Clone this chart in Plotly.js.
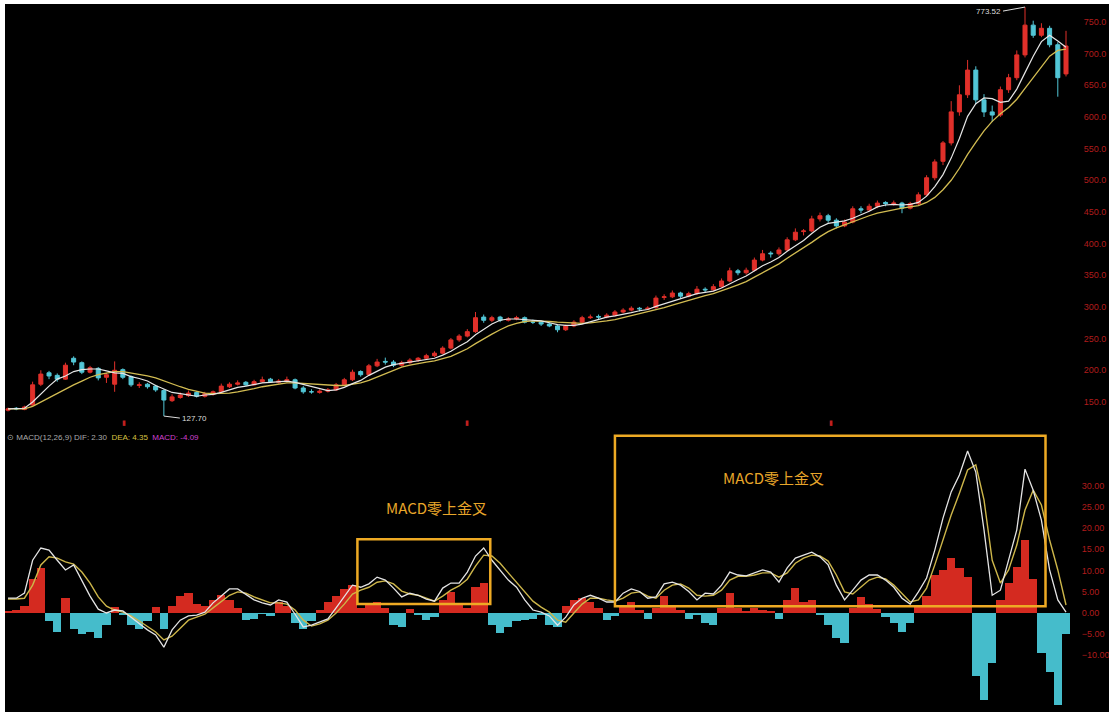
<!DOCTYPE html>
<html><head><meta charset="utf-8">
<script src="https://cdn.plot.ly/plotly-3.0.1.min.js"></script>
<style>
html,body{margin:0;padding:0;background:#fff;width:1114px;height:716px;overflow:hidden}
#chart{position:absolute;left:5px;top:4px;width:1104px;height:708px}
</style></head><body><div id="chart"></div>
<script>
// ---- price (OHLC) ----
const openP = [137,140,138,145,178,196,192,186,219,212,
197,203,189,178,201,190,176,178,175,168,
152,157,160,165,159,162,166,174,178,181,
177,182,186,181,183,185,172,166,165,167,
169,177,185,198,193,207,214,213,208,212,
216,219,223,227,235,248,254,261,284,279,
284,279,281,283,276,276,273,270,264,270,
276,283,285,284,287,292,295,298,297,299,
315,316,322,317,321,328,327,332,341,357,
354,358,374,385,384,390,406,419,420,439,
444,437,428,434,455,453,459,465,463,464,
456,463,477,504,530,559,608,635,674,627,
608,603,643,662,698,745,729,740,714,668];
const highP = [141,142,144,182,200,199,195,212,222,214,
207,205,196,214,203,192,181,180,177,170,
162,165,168,167,166,168,179,181,184,183,
185,190,188,186,190,187,175,170,170,172,
180,188,201,200,210,218,220,216,215,219,
221,226,230,238,251,257,265,292,288,286,
286,284,286,285,280,278,275,272,272,279,
286,288,288,290,295,298,301,300,301,318,
320,326,324,324,333,331,336,345,362,360,
362,378,390,388,394,410,424,423,444,449,
447,440,438,459,459,463,468,467,468,466,
466,481,508,533,562,625,650,690,680,636,
618,648,668,705,773.52,752,748,744,718,736];
const lowP = [135,137,137,144,175,186,182,185,208,194,
195,184,180,166,186,174,172,171,166,127.7,
150,155,158,157,157,160,165,172,176,175,
176,180,180,179,181,170,163,163,163,165,
168,175,183,190,191,205,209,205,206,210,
213,217,221,225,233,245,252,259,275,276,
276,277,279,274,273,270,268,260,262,268,
274,281,281,282,285,290,293,293,295,297,
311,314,314,315,319,323,325,330,339,350,
351,356,372,378,381,388,404,413,418,435,
433,424,426,432,448,451,456,459,460,448,
454,461,475,500,524,555,602,630,620,600,
592,600,638,658,694,725,726,710,632,664];
const closeP = [139,139,142,177,194,191,186,208,213,197,
204,188,193,200,189,177,177,174,169,153,
158,161,164,159,163,166,175,178,180,177,
182,185,182,183,185,172,166,166,167,169,
177,185,197,193,207,213,213,208,212,216,
219,223,227,235,248,254,261,283,279,283,
279,281,283,276,276,273,270,264,270,276,
283,284,284,287,292,295,298,297,298,314,
316,322,317,321,328,327,332,341,357,354,
358,374,384,384,390,406,418,420,439,444,
437,428,434,455,453,459,464,463,464,456,
463,477,504,529,559,608,635,674,627,608,
603,643,662,698,745,729,740,714,662,712];
// ---- moving averages ----
const maFast = [139,139,140,150,163,175,186,191,198,201,
202,202,199,196,195,190,187,183,176,170,
165,163,161,159,161,162,165,169,173,175,
178,180,181,182,183,181,178,174,171,168,
169,173,179,184,192,199,205,209,211,212,
214,216,219,224,230,238,245,256,265,273,
279,281,281,280,279,278,275,272,271,271,
273,277,281,284,286,288,291,294,296,301,
305,310,313,318,321,323,325,330,337,343,
349,357,365,371,378,388,397,405,416,426,
432,434,436,440,445,451,458,461,462,461,
462,465,475,490,509,535,566,601,621,630,
629,623,625,644,670,696,719,729,720,710];
const maSlow = [139,139,139,143,150,157,163,170,177,183,
189,193,196,198,198,196,194,191,188,183,
178,174,170,167,164,163,163,164,166,168,
171,174,176,178,180,180,179,178,177,176,
176,176,178,180,184,189,195,200,205,208,
211,213,215,218,222,228,234,242,250,257,
264,270,274,277,278,278,277,276,275,274,
274,275,276,278,280,283,286,289,292,295,
299,303,307,311,315,318,321,325,330,335,
340,347,354,361,368,377,385,393,402,411,
419,425,430,435,440,444,448,451,454,456,
458,460,465,473,485,500,519,541,560,578,
593,605,615,628,645,662,680,696,705,707];
// ---- MACD ----
const dif = [3.4,3.4,4.6,12.4,15.3,14.8,12.4,10.1,11.3,7.7,
3.9,0.8,-0.1,0.6,0.4,-1.1,-2.7,-4.1,-5.3,-8.2,
-4.1,-1.8,-0.8,-0.6,0.1,2.3,3.9,5.6,5.6,4.4,
3.0,2.3,1.8,3.0,2.5,-0.4,-3.4,-3.0,-2.3,-1.5,
1.1,3.9,6.5,6.0,6.8,8.4,7.7,5.8,3.7,4.6,
4.1,3.2,2.7,5.8,7.0,7.0,9.6,13.4,15.3,12.4,
10.1,7.7,6.0,3.0,0.6,0.1,-0.8,-3.0,-1.1,1.8,
3.4,4.1,3.4,2.5,2.5,4.6,5.6,5.0,3.4,3.7,
6.8,7.2,6.5,5.0,3.0,4.6,4.4,6.5,9.6,8.9,
8.7,9.4,10.1,9.6,7.2,10.6,12.9,13.6,14.3,13.2,
11.3,6.5,3.0,5.3,7.7,8.9,8.9,7.7,6.0,3.4,
2.0,4.9,8.2,14.8,22.4,28.6,32.6,38.3,33.3,19.6,
4.1,5.3,12.4,19.6,34.0,29.0,21.9,10.1,3.0,0.1];
const dea = [3.2,3.2,3.4,6.5,11.3,13.2,12.9,12.0,11.5,9.6,
7.0,3.7,1.5,0.6,0.1,-0.8,-2.0,-3.4,-4.6,-6.5,
-5.6,-3.7,-1.8,-1.1,-0.4,1.1,2.7,4.1,4.9,4.6,
3.7,3.0,2.3,2.3,2.0,0.6,-1.8,-3.2,-2.7,-1.8,
-0.1,2.0,4.4,5.3,6.0,7.2,7.5,6.8,5.1,4.4,
4.1,3.4,2.7,3.9,5.3,6.3,7.9,11.0,13.6,13.4,
11.7,9.4,7.2,4.9,2.7,1.3,0.1,-1.8,-2.3,-0.1,
2.0,3.4,3.4,3.0,2.7,3.4,4.6,4.9,3.9,3.4,
5.3,6.5,6.8,5.8,4.1,3.9,4.1,5.3,7.7,8.6,
8.6,8.9,9.4,9.4,8.4,9.4,11.7,12.9,13.6,13.4,
12.2,8.9,4.9,4.4,6.0,7.7,8.4,8.0,6.5,4.4,
2.5,3.0,5.8,11.3,17.2,23.1,28.3,33.8,35.0,26.7,
12.4,7.0,10.1,16.0,24.3,29.0,25.5,17.2,10.1,1.8];
const macdHist = [0.3,0.5,1.5,8.0,10.5,-2.0,-4.5,3.5,-4.0,-5.0,
-4.5,-6.0,-3.0,1.3,-0.5,-3.0,-4.0,-2.0,1.3,-4.0,
1.5,4.0,4.7,2.0,1.5,3.0,4.1,3.0,1.0,-1.8,
-1.5,-0.3,-0.7,2.5,1.5,-2.5,-4.0,-2.0,0.5,2.5,
4.0,5.5,6.5,1.0,2.0,2.5,1.0,-3.0,-3.4,0.8,
-0.5,-1.8,-1.0,3.0,4.9,2.0,1.0,6.0,7.0,-3.0,
-4.9,-3.5,-2.0,-1.8,-1.5,-0.5,-3.0,-3.4,1.5,3.0,
3.4,2.5,1.0,-1.8,-0.8,1.5,2.5,0.5,-1.5,1.0,
4.0,1.5,0.5,-1.5,-0.5,-2.5,-3.0,1.0,4.6,1.0,
0.3,1.0,0.5,0.3,-1.5,3.0,5.8,2.5,3.0,-0.5,
-3.0,-6.0,-7.2,1.0,3.7,2.0,0.8,-1.0,-2.5,-4.7,
-2.5,1.5,4.0,9.0,10.0,13.0,10.5,8.4,-15.0,-20.7,
-12.0,3.0,7.0,10.8,17.2,8.0,-9.6,-14.0,-22.0,-5.0];
const priceTicks = [150,200,250,300,350,400,450,500,550,600,650,700,750];
const macdTicks = [-10,-5,0,5,10,15,20,25,30];
const boxLabel = 'MACD零上金叉';

const idx = closeP.map((_, i) => i);
const RED = '#e0302a', CYAN = '#52c6d6';

const traces = [
  {type:'bar', x: idx, y: macdHist, xaxis:'x', yaxis:'y2', width: 1,
   marker:{color: macdHist.map(v => v >= 0 ? '#d42a20' : '#45bccb'), line:{width:0}}, hoverinfo:'skip'},
  {type:'candlestick', x: idx, open: openP, high: highP, low: lowP, close: closeP,
   xaxis:'x', yaxis:'y', whiskerwidth: 0,
   increasing:{line:{color:RED, width:1}, fillcolor:RED},
   decreasing:{line:{color:CYAN, width:1}, fillcolor:CYAN}},
  {type:'scatter', mode:'lines', x: idx, y: maSlow, xaxis:'x', yaxis:'y', line:{color:'#d2bc52', width:1.3}},
  {type:'scatter', mode:'lines', x: idx, y: maFast, xaxis:'x', yaxis:'y', line:{color:'#e6e6e6', width:1.2}},
  {type:'scatter', mode:'lines', x: idx, y: dea, xaxis:'x', yaxis:'y2', line:{color:'#cdb64a', width:1.4}},
  {type:'scatter', mode:'lines', x: idx, y: dif, xaxis:'x', yaxis:'y2', line:{color:'#e4e4e4', width:1.3}}
];

const tickFont = {family:'Liberation Sans, Arial', size:9, color:'#b01c1c'};
const layout = {
  width:1104, height:708, margin:{l:0, r:37, t:0, b:0},
  paper_bgcolor:'#000', plot_bgcolor:'#000', showlegend:false,
  bargap:0,
  font:{family:'Liberation Sans, Arial', color:'#ccc'},
  xaxis:{range:[-0.37, 129.73], showticklabels:false, showgrid:false, zeroline:false,
         rangeslider:{visible:false}, anchor:'y2', fixedrange:true},
  yaxis:{domain:[0.4153, 0.9986], range:[124.7, 776.8], side:'right', anchor:'x',
         tickvals: priceTicks, tickformat:'.1f', showgrid:false, zeroline:false,
         ticks:'outside', ticklen:9, tickcolor:'rgba(0,0,0,0)', tickfont: tickFont},
  yaxis2:{domain:[0.0028, 0.3955], range:[-23.1, 42.8], side:'right', anchor:'x',
          tickvals: macdTicks, tickformat:'.2f', showgrid:false, zeroline:false,
          ticks:'outside', ticklen:7, tickcolor:'rgba(0,0,0,0)', tickfont: tickFont},
  shapes:[
    {type:'rect', xref:'x', yref:'y2', x0:42.6, x1:58.8, y0:2.0, y1:17.4,
     line:{color:'#eeaa24', width:2.5}},
    {type:'rect', xref:'x', yref:'y2', x0:74.0, x1:126.5, y0:1.5, y1:41.9,
     line:{color:'#eeaa24', width:2.5}}
  ],
  annotations:[
    {xref:'x', yref:'y2', x:52.3, y:25.0, text: boxLabel, showarrow:false,
     font:{family:'Noto Sans CJK SC', size:15, color:'#e8a62a'}},
    {xref:'x', yref:'y2', x:93.3, y:32.1, text: boxLabel, showarrow:false,
     font:{family:'Noto Sans CJK SC', size:15, color:'#e8a62a'}},
    {xref:'x', yref:'y', x:19, y:127.7, text:'127.70', showarrow:true, arrowhead:0,
     arrowwidth:1, arrowcolor:'#ddd', ax:16, ay:2, xanchor:'left',
     font:{size:8, color:'#dddddd'}},
    {xref:'x', yref:'y', x:124, y:773.52, text:'773.52', showarrow:true, arrowhead:0,
     arrowwidth:1, arrowcolor:'#ddd', ax:-22, ay:4, xanchor:'right',
     font:{size:8, color:'#dddddd'}},
    {xref:'paper', yref:'paper', x:0.0, y:0.3884, xanchor:'left', yanchor:'middle', showarrow:false,
     text:'<span style="color:#aaa">⊙ MACD(12,26,9) DIF: 2.30</span>  <span style="color:#d6c040">DEA: 4.35</span>  <span style="color:#d040d0">MACD: -4.09</span>',
     font:{size:8}},
    {xref:'paper', yref:'paper', x:0.1078, y:0.4082, text:'▮', showarrow:false, font:{size:7, color:'#c02020'}},
    {xref:'paper', yref:'paper', x:0.433, y:0.4082, text:'▮', showarrow:false, font:{size:7, color:'#c02020'}},
    {xref:'paper', yref:'paper', x:0.778, y:0.4082, text:'▮', showarrow:false, font:{size:7, color:'#c02020'}}
  ]
};
Plotly.newPlot('chart', traces, layout, {displayModeBar:false, staticPlot:true});
</script>
</body></html>
